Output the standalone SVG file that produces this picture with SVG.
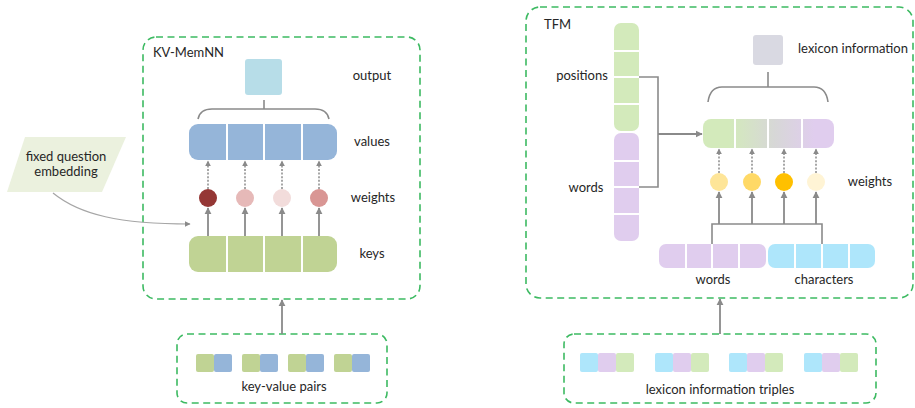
<svg xmlns="http://www.w3.org/2000/svg" width="915" height="408" viewBox="0 0 915 408">
<defs>
<style>
.frame{fill:none;stroke:#3dba62;stroke-width:1.6;stroke-dasharray:7 4.5}
.t{font-family:Lato,"Liberation Sans",sans-serif;fill:#262626;font-size:13px}
.c{text-anchor:middle}
.sep{stroke:#fff;stroke-width:2}
.ar{stroke:#8a8a8a;stroke-width:1.8;fill:none}
.dot{stroke:#8a8a8a;stroke-width:1.5;stroke-dasharray:2 1.6;fill:none}
.ln{stroke:#8a8a8a;stroke-width:1.6;fill:none}
</style>
<marker id="ah" viewBox="0 0 10 10" refX="9" refY="5" markerWidth="4" markerHeight="4" orient="auto" markerUnits="strokeWidth"><path d="M0,0 L10,5 L0,10 z" fill="#8a8a8a"/></marker>
<marker id="ah2" viewBox="0 0 10 10" refX="9" refY="5" markerWidth="5" markerHeight="5" orient="auto" markerUnits="strokeWidth"><path d="M0,0 L10,5 L0,10 z" fill="#8a8a8a"/></marker>
<linearGradient id="mix" x1="703" y1="0" x2="834" y2="0" gradientUnits="userSpaceOnUse">
<stop offset="0.2" stop-color="#d3eabb"/>
<stop offset="0.55" stop-color="#d7d7d7"/>
<stop offset="0.85" stop-color="#e0cdee"/>
</linearGradient>
</defs>

<g id="kv-memnn">
<rect class="frame" x="143" y="37" width="277" height="262" rx="13"/>
<text class="t" x="153" y="57" font-size="14.5">KV-MemNN</text>
</g>
<g id="output">
<rect x="245" y="59" width="37" height="36" rx="3" fill="#b7dde8"/>
<text class="t c" x="372" y="80">output</text>
</g>
<g id="values">
<rect x="189" y="124" width="148" height="36" rx="9" fill="#95b5d9"/>
<path class="sep" d="M227,124V160M264,124V160M302,124V160"/>
<text class="t c" x="372" y="146">values</text>
</g>
<g id="weights-kv">
<circle cx="208" cy="198" r="9" fill="#953735"/>
<circle cx="245" cy="198" r="9" fill="#e6b9b8"/>
<circle cx="282" cy="198" r="9" fill="#f2dcdb"/>
<circle cx="319" cy="198" r="9" fill="#d99694"/>
<text class="t c" x="373" y="202">weights</text>
</g>
<g id="keys">
<rect x="189" y="236" width="148" height="36" rx="9" fill="#c0d394"/>
<path class="sep" d="M227,236V272M264,236V272M302,236V272"/>
<text class="t c" x="372" y="258">keys</text>
</g>
<g id="question">
<polygon points="25,137 126,137 102,192 7,192" fill="#ebf1de"/>
<text class="t c" x="66" y="161" font-size="12.5">fixed question</text>
<text class="t c" x="66" y="176" font-size="12.5">embedding</text>
</g>
<g id="kv-pairs">
<rect class="frame" x="177" y="334" width="210" height="69" rx="10"/>
<g>
<rect x="196" y="354" width="18" height="18" rx="2" fill="#c0d394"/><rect x="214" y="354" width="18" height="18" rx="2" fill="#95b5d9"/>
<rect x="242" y="354" width="18" height="18" rx="2" fill="#c0d394"/><rect x="260" y="354" width="18" height="18" rx="2" fill="#95b5d9"/>
<rect x="288" y="354" width="18" height="18" rx="2" fill="#c0d394"/><rect x="306" y="354" width="18" height="18" rx="2" fill="#95b5d9"/>
<rect x="334" y="354" width="18" height="18" rx="2" fill="#c0d394"/><rect x="352" y="354" width="18" height="18" rx="2" fill="#95b5d9"/>
</g>
<text class="t c" x="284" y="391" font-size="15">key-value pairs</text>
</g>

<g id="tfm">
<rect class="frame" x="526" y="7" width="387" height="291" rx="14"/>
<text class="t" x="544" y="29" font-size="14.5">TFM</text>
</g>
<g id="positions">
<rect x="614" y="23" width="25" height="108" rx="7" fill="#d3eabb"/>
<path class="sep" d="M614,51H639M614,77H639M614,104H639"/>
<text class="t c" x="582" y="80">positions</text>
</g>
<g id="words-col">
<rect x="614" y="133" width="25" height="108" rx="7" fill="#e0cdee"/>
<path class="sep" d="M614,161H639M614,187H639M614,214H639"/>
<text class="t c" x="586" y="192">words</text>
</g>
<g id="lexicon-info">
<rect x="753" y="35" width="30" height="30" rx="3" fill="#d9d9e2"/>
<text class="t c" x="853" y="53" font-size="12.5">lexicon information</text>
</g>
<g id="combined">
<rect x="703" y="119" width="131" height="29" rx="8" fill="url(#mix)"/>
<path class="sep" d="M735,119V148M768,119V148M802,119V148"/>
</g>
<g id="weights-tfm">
<circle cx="719" cy="182" r="9" fill="#fee598"/>
<circle cx="752" cy="182" r="9" fill="#ffd966"/>
<circle cx="784" cy="182" r="9" fill="#ffc000"/>
<circle cx="816" cy="182" r="9" fill="#fff4d5"/>
<text class="t c" x="870" y="186">weights</text>
</g>
<g id="words-row">
<rect x="659" y="244" width="107" height="24" rx="7" fill="#e0cdee"/>
<path class="sep" d="M686,244V268M712,244V268M739,244V268"/>
<text class="t c" x="713" y="284">words</text>
</g>
<g id="characters">
<rect x="768" y="244" width="107" height="24" rx="7" fill="#aee6fb"/>
<path class="sep" d="M795,244V268M822,244V268M849,244V268"/>
<text class="t c" x="824" y="284">characters</text>
</g>
<g id="triples">
<rect class="frame" x="564" y="334" width="312" height="69" rx="10"/>
<g>
<rect x="580" y="353" width="18" height="19" rx="2" fill="#aee6fb"/><rect x="598" y="353" width="18" height="19" rx="2" fill="#e0cdee"/><rect x="616" y="353" width="18" height="19" rx="2" fill="#d3eabb"/>
<rect x="655" y="353" width="18" height="19" rx="2" fill="#aee6fb"/><rect x="673" y="353" width="18" height="19" rx="2" fill="#e0cdee"/><rect x="691" y="353" width="18" height="19" rx="2" fill="#d3eabb"/>
<rect x="729" y="353" width="18" height="19" rx="2" fill="#aee6fb"/><rect x="747" y="353" width="18" height="19" rx="2" fill="#e0cdee"/><rect x="765" y="353" width="18" height="19" rx="2" fill="#d3eabb"/>
<rect x="804" y="353" width="18" height="19" rx="2" fill="#aee6fb"/><rect x="822" y="353" width="18" height="19" rx="2" fill="#e0cdee"/><rect x="840" y="353" width="18" height="19" rx="2" fill="#d3eabb"/>
</g>
<text class="t c" x="720" y="394" font-size="15.5">lexicon information triples</text>
</g>

<g id="connectors">
<path class="ln" d="M264,100V109M198,119Q200,109 212,109H315Q327,109 329,119"/>
<path class="dot" marker-end="url(#ah)" d="M208,189V161"/>
<path class="dot" marker-end="url(#ah)" d="M245,189V161"/>
<path class="dot" marker-end="url(#ah)" d="M282,189V161"/>
<path class="dot" marker-end="url(#ah)" d="M319,189V161"/>
<path class="ar" marker-end="url(#ah)" d="M208,236V208"/>
<path class="ar" marker-end="url(#ah)" d="M245,236V208"/>
<path class="ar" marker-end="url(#ah)" d="M282,236V208"/>
<path class="ar" marker-end="url(#ah)" d="M319,236V208"/>
<path d="M53,193C80,215 120,224 190,224" fill="none" stroke="#a6a6a6" stroke-width="1.2" marker-end="url(#ah2)"/>
<path class="ar" marker-end="url(#ah)" d="M282,334V300"/>
<path class="ln" d="M768,72V87M708,102Q710,87 722,87H814Q826,87 828,102"/>
<path class="ln" d="M639,77H658V187H639"/>
<path class="ar" marker-end="url(#ah)" d="M658,134H702"/>
<path class="dot" marker-end="url(#ah)" d="M719,173V149"/>
<path class="dot" marker-end="url(#ah)" d="M752,173V149"/>
<path class="dot" marker-end="url(#ah)" d="M784,173V149"/>
<path class="dot" marker-end="url(#ah)" d="M816,173V149"/>
<path class="ln" d="M712,244V224H822V244"/>
<path class="ar" marker-end="url(#ah)" d="M719,224V192"/>
<path class="ar" marker-end="url(#ah)" d="M752,224V192"/>
<path class="ar" marker-end="url(#ah)" d="M784,224V192"/>
<path class="ar" marker-end="url(#ah)" d="M816,224V192"/>
<path class="ar" marker-end="url(#ah)" d="M720,334V299"/>
</g>
</svg>
